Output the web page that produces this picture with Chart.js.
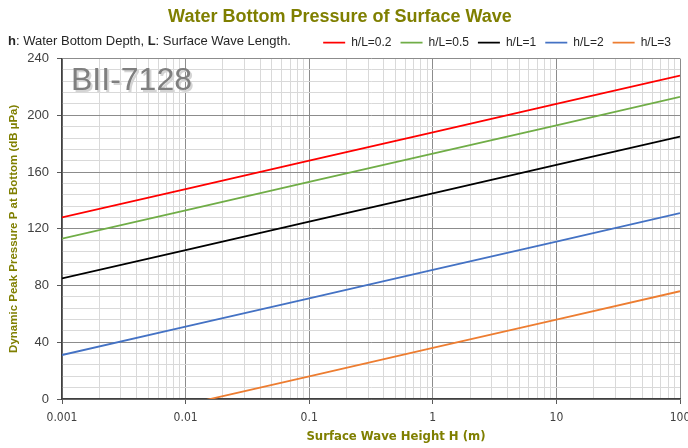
<!DOCTYPE html>
<html>
<head>
<meta charset="utf-8">
<script src="https://cdn.jsdelivr.net/npm/chart.js@4"></script>
<style>
  html, body { margin: 0; padding: 0; background: #fff; }
  #wrap { width: 688px; height: 448px; }
</style>
</head>
<body>
<div id="wrap"><canvas id="chart" width="688" height="448"></canvas></div>
<script>
// wave height H (m)
const heights = [0.001, 0.01, 0.1, 1, 10, 100];
const seriesLabels = ['h/L=0.2', 'h/L=0.5', 'h/L=1', 'h/L=2', 'h/L=3'];
const seriesColors = ['#ff0000', '#70ad47', '#000000', '#4472c4', '#ed7d31'];
// pressure in dB uPa read at each height
const pL02 = [128, 148, 168, 188, 208, 228];
const pL05 = [113, 133, 153, 173, 193, 213];
const pL1 = [85, 105, 125, 145, 165, 185];
const pL2 = [31, 51, 71, 91, 111, 131];
const pL3 = [-24, -4, 16, 36, 56, 76];
const yTicks = [0, 40, 80, 120, 160, 200, 240];

const olive = '#7f7f00';
const narrow = '"Liberation Sans Narrow", "DejaVu Sans Condensed", "Liberation Sans", sans-serif';
const allSeries = [pL02, pL05, pL1, pL2, pL3];

const isDecade = v => Math.abs(Math.log10(v) - Math.round(Math.log10(v))) < 1e-9;

// subtitle, watermark, x title
const extras = {
    id: 'extras',
    afterDraw(chart) {
        const ctx = chart.ctx;
        ctx.save();
        ctx.textBaseline = 'middle';
        ctx.fillStyle = '#262626';
        let x = 8;
        const parts = [['h', true], [': Water Bottom Depth, ', false], ['L', true], [': Surface Wave Length.', false]];
        parts.forEach(([t, b]) => {
            ctx.font = (b ? 'bold ' : '') + '13px "Liberation Sans"';
            ctx.fillText(t, x, 41);
            x += ctx.measureText(t).width;
        });

        ctx.font = '32px "Liberation Sans"';
        ctx.textAlign = 'left';
        ctx.fillStyle = '#d4d4d4';
        ctx.fillText('BII-7128', 73, 83);
        ctx.fillStyle = '#7f7f7f';
        ctx.fillText('BII-7128', 71, 81);

        ctx.font = 'bold 13px ' + narrow;
        ctx.textAlign = 'center';
        ctx.fillStyle = olive;
        ctx.fillText('Surface Wave Height H (m)', 396, 437);
        ctx.restore();
    }
};

const ctx = document.getElementById('chart').getContext('2d');
new Chart(ctx, {
    type: 'line',
    data: {
        datasets: seriesLabels.map((lab, i) => ({
            label: lab,
            data: heights.map((h, j) => ({ x: h, y: allSeries[i][j] })),
            borderColor: seriesColors[i],
            backgroundColor: seriesColors[i],
            borderWidth: 1.8,
            pointRadius: 0,
            tension: 0
        }))
    },
    options: {
        responsive: false,
        animation: false,
        layout: { padding: { left: 0, right: 8, top: 0, bottom: 0 } },
        plugins: {
            title: {
                display: true,
                text: 'Water Bottom Pressure of Surface Wave',
                color: olive,
                font: { family: '"Liberation Sans"', size: 18, weight: 'bold' },
                padding: { top: 6, bottom: 0 }
            },
            legend: {
                position: 'top',
                align: 'end',
                labels: {
                    usePointStyle: true,
                    pointStyle: 'line',
                    pointStyleWidth: 22,
                    color: '#262626',
                    font: { family: '"Liberation Sans"', size: 12 },
                    padding: 9
                }
            },
            tooltip: { enabled: false }
        },
        scales: {
            x: {
                type: 'logarithmic',
                min: 0.001,
                max: 100,
                afterBuildTicks(scale) {
                    const t = [];
                    for (let e = -3; e <= 2; e++) {
                        for (let m = 1; m <= 9; m++) {
                            const v = parseFloat((m * Math.pow(10, e)).toPrecision(6));
                            if (v <= 100) t.push({ value: v });
                        }
                    }
                    scale.ticks = t;
                },
                afterFit(scale) {
                    scale.height = 49;
                    scale.paddingLeft = 0;
                    scale.paddingRight = 0;
                },
                ticks: {
                    autoSkip: false,
                    maxRotation: 0,
                    padding: 7,
                    color: '#404040',
                    font: { family: narrow, size: 12 },
                    callback: v => isDecade(v) ? String(v) : ''
                },
                grid: {
                    color: c => isDecade(c.tick.value) ? '#8c8c8c' : '#d9d9d9',
                    tickColor: c => isDecade(c.tick.value) ? '#595959' : 'rgba(0,0,0,0)',
                    tickLength: 5
                },
                border: { color: '#404040', width: 1.5 }
            },
            y: {
                min: 0,
                max: 240,
                afterFit(scale) { scale.width = 62; },
                ticks: {
                    stepSize: 8,
                    autoSkip: false,
                    padding: 8,
                    color: '#404040',
                    font: { family: '"Liberation Sans"', size: 13 },
                    callback: v => yTicks.includes(v) ? String(v) : ''
                },
                grid: {
                    color: c => yTicks.includes(c.tick.value) ? '#8c8c8c' : '#d9d9d9',
                    tickColor: c => yTicks.includes(c.tick.value) ? '#595959' : 'rgba(0,0,0,0)',
                    tickLength: 5
                },
                border: { color: '#404040', width: 1.5 },
                title: {
                    display: true,
                    text: 'Dynamic Peak Pressure P at Bottom (dB µPa)',
                    color: olive,
                    font: { family: '"Liberation Sans"', size: 11.5, weight: 'bold' },
                    padding: { top: 7, bottom: 0 }
                }
            }
        }
    },
    plugins: [extras]
});
</script>
</body>
</html>
